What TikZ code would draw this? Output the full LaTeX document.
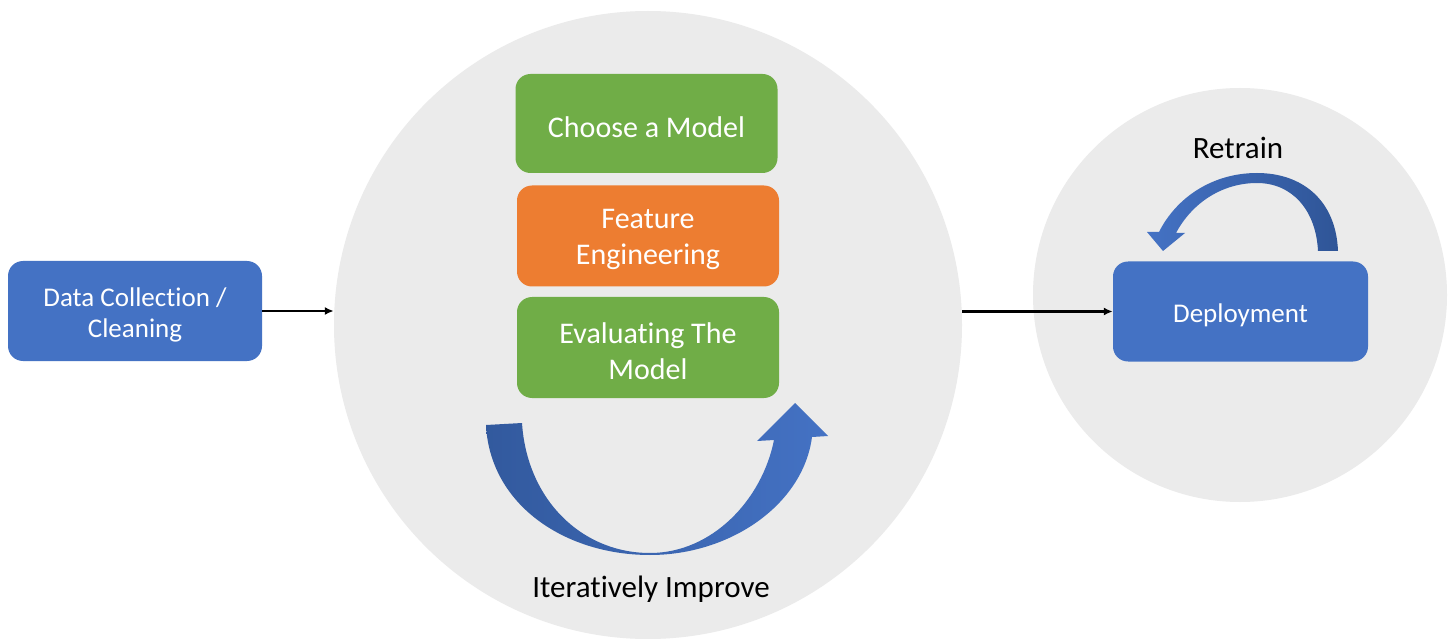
\documentclass[tikz,border=0pt]{standalone}
\usepackage{fontspec}
\setmainfont{Carlito}[Ligatures=CommonOff, Contextuals=AlternateOff]
\usetikzlibrary{arrows.meta}
\definecolor{bgc}{HTML}{EBEBEB}
\definecolor{bluebox}{HTML}{4472C4}
\definecolor{bluedark}{HTML}{2F5597}
\definecolor{greenbox}{HTML}{70AD47}
\definecolor{orangebox}{HTML}{ED7D31}
\tikzset{
  box/.style={rounded corners=15pt, inner sep=0pt},
  boxtxt/.style={text=white, align=center, yshift=-3.5pt},
  bigtxt/.style={font=\fontsize{30}{36}\selectfont},
  smalltxt/.style={font=\fontsize{27}{31}\selectfont},
  labeltxt/.style={font=\fontsize{31}{36}\selectfont, text=black},
  flow/.style={line width=2pt, -{Latex[length=9pt,width=8pt]}},
  disc/.style={circle, fill=bgc, inner sep=0pt}
}
\begin{document}
\begin{tikzpicture}[x=1pt,y=-1pt]
\useasboundingbox (0,0) rectangle (1452,639);
\fill[white] (0,0) rectangle (1452,639);
% discs
\node[disc, minimum size=628pt] (bigc) at (648,325) {};
\node[disc, minimum size=414pt] (smallc) at (1240,295) {};
% boxes
\node[box, fill=bluebox, minimum width=254pt, minimum height=100pt,
  label={[name=dct, boxtxt, smalltxt]center:{Data Collection /\\Cleaning}}] (dc) at (135,311) {};
\node[box, fill=greenbox, minimum width=262pt, minimum height=99pt,
  label={[name=cmt, boxtxt, bigtxt]center:{Choose a Model}}] (cm) at (646.5,123.5) {};
\node[box, fill=orangebox, minimum width=262pt, minimum height=101pt,
  label={[name=fet, boxtxt, bigtxt]center:{Feature\\Engineering}}] (fe) at (648,236) {};
\node[box, fill=greenbox, minimum width=262pt, minimum height=101pt,
  label={[name=evt, boxtxt, bigtxt]center:{Evaluating The\\Model}}] (ev) at (648,347.5) {};
\node[box, fill=bluebox, minimum width=255pt, minimum height=100pt,
  label={[name=dept, boxtxt, smalltxt]center:{Deployment}}] (dep) at (1240.5,311.5) {};
% labels
\node[labeltxt, anchor=base] (it) at (651,597) {Iterat\kern0pt ively Improve};
\node[labeltxt, anchor=base] (rt) at (1238,159) {Retrain};
% connectors
\draw[flow] (dc.east) -- (dc.east -| bigc.west);
\draw[flow] (bigc.east |- dep.west) -- (dep.west);
% iterate arrow
\shade[left color=bluedark!85!bluebox, right color=bluebox]
  (486,425) .. controls (490,505) and (565,555) .. (650,555)
  .. controls (730,555) and (803,505) .. (812,437)
  -- (828,436) -- (795,403) -- (757,441) -- (774,440)
  .. controls (762,500) and (712,553) .. (650,553)
  .. controls (582,553) and (527,500) .. (522,423) -- cycle;
% retrain arrow
\shade[left color=bluebox, right color=bluedark]
  (1338,251) .. controls (1336,200) and (1302,173) .. (1257,173)
  .. controls (1212,173) and (1176,198) .. (1159,232)
  -- (1147,232) -- (1163,251) -- (1185,233) -- (1176,233)
  .. controls (1192,203) and (1222,183) .. (1257,183)
  .. controls (1292,183) and (1316,210) .. (1318,251) -- cycle;
\end{tikzpicture}
\end{document}
